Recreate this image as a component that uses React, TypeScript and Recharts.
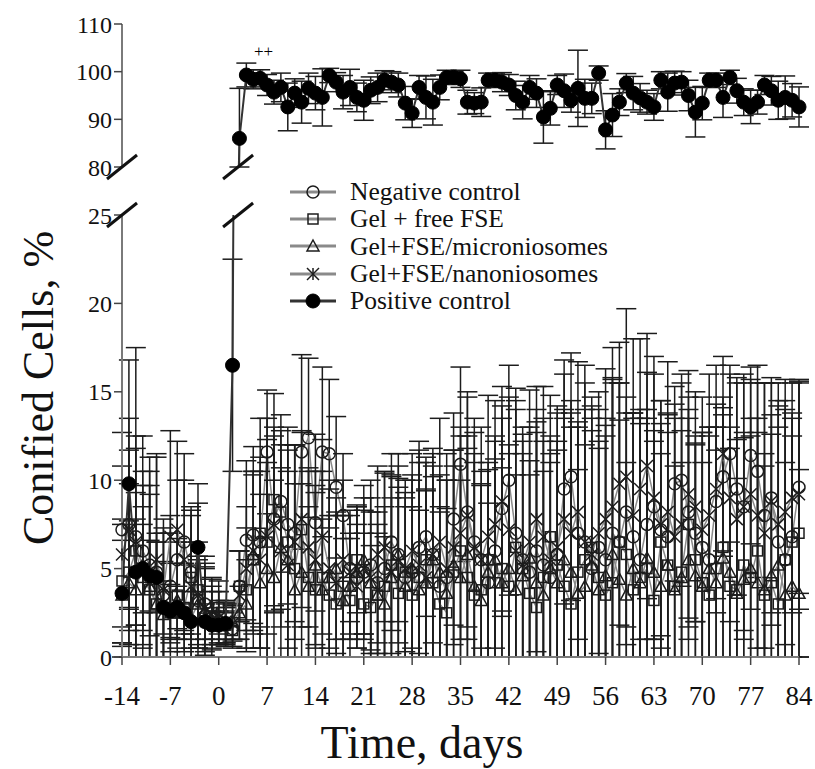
import React from "react"
import { ComposedChart, Line, XAxis, YAxis, ErrorBar, ReferenceDot, Label } from "recharts"

const W = 815
const H = 769
const FONT = "'Liberation Serif', 'Times New Roman', serif"

// days -14 .. 84
const days = Array.from({ length: 99 }, (_, i) => i - 14)
const dayTicks = [-14, -7, 0, 7, 14, 21, 28, 35, 42, 49, 56, 63, 70, 77, 84]
const lowTicks = [0, 5, 10, 15, 20, 25]
const highTicks = [80, 90, 100, 110]

const negControl = [
  7.2, 7.5, 6.8, 6.0, 5.2, 4.8, 3.5,
  4.0, 5.5, 6.5, 4.8, 3.2, 3.0, 2.2,
  2.0, 1.8, 1.6, 4.0, 6.6, 6.9, 6.5,
  11.6, 7.8, 8.8, 7.5, 7.0, 11.6, 12.4,
  7.6, 11.6, 11.5, 9.6, 8.0, 5.0, 4.5,
  4.8, 5.2, 4.2, 5.0, 6.5, 5.8, 4.5,
  4.8, 6.2, 6.8, 5.8, 4.0, 4.5, 7.8,
  10.9, 8.2, 6.5, 5.5, 4.2, 6.0, 8.4,
  10.0, 7.0, 5.5, 4.8, 6.0, 5.2, 4.5,
  5.8, 9.5, 10.2, 7.0, 6.5, 5.0, 6.2,
  5.5, 7.0, 6.5, 8.2, 6.8, 5.5, 7.5,
  8.5, 7.2, 6.8, 9.8, 10.0, 8.2, 7.0,
  6.2, 5.5, 8.8, 10.2, 11.5, 9.5, 8.5,
  11.4, 10.5, 8.0, 9.0, 6.5, 5.5, 6.8,
  9.6,
]
const negControlSd = [
  5.5, 6.0, 5.0, 4.5, 4.0, 6.5, 3.5,
  3.0, 4.5, 5.0, 3.5, 2.5, 2.0, 1.5,
  1.2, 1.0, 1.0, 2.0, 4.5, 5.0, 4.8,
  3.5, 5.2, 4.0, 4.5, 5.0, 5.5, 4.5,
  5.0, 4.8, 4.2, 4.0, 3.5, 3.0, 4.0,
  3.5, 4.8, 4.0, 5.5, 5.0, 3.8, 4.5,
  5.5, 6.0, 4.5, 5.0, 4.2, 5.5, 6.0,
  5.5, 6.5, 7.0, 5.0, 4.5, 6.2, 5.8,
  6.5, 7.5, 6.0, 5.5, 8.0, 7.0, 6.5,
  8.0, 6.5, 7.0, 6.0, 7.5, 8.5, 6.0,
  7.0, 8.5, 9.0, 6.5, 7.0, 8.0, 6.5,
  7.5, 6.0, 7.0, 5.5, 6.0, 6.5, 5.0,
  6.5, 7.5, 5.5, 4.5, 5.0, 6.0, 7.0,
  5.0, 6.0, 7.5, 6.5, 8.0, 9.0, 7.0,
  6.0,
]

const gelFree = [
  4.3, 4.8, 6.0, 4.5, 3.8, 3.0, 2.8,
  2.5, 3.5, 2.8, 4.5, 3.8, 2.2, 2.5,
  2.8, 1.8, 1.5, 4.0, 3.8, 5.5, 7.0,
  6.5, 8.9, 8.2, 6.5, 5.0, 7.2, 4.5,
  3.8, 4.5, 3.5, 3.0, 4.0, 3.2, 5.5,
  3.0, 2.8, 3.5, 4.0, 5.2, 3.6, 4.8,
  3.5, 4.5, 5.5, 4.2, 3.0, 2.5, 4.8,
  6.0, 4.5, 3.5, 3.8, 5.5, 4.2, 5.0,
  4.0, 6.2, 5.0, 3.6, 2.8, 4.5, 6.8,
  5.2, 4.0, 3.0, 4.8, 5.5, 6.2, 4.5,
  3.5, 4.2, 6.5, 5.8, 3.8, 4.5, 5.0,
  3.2, 6.5, 5.2, 4.0, 4.8, 7.5, 5.5,
  4.2, 3.5, 5.0, 6.2, 4.0, 3.8, 5.2,
  4.5, 6.0, 3.5, 4.2, 3.0, 5.5, 6.5,
  7.0,
]
const gelFreeSd = [
  3.5, 5.0, 6.5, 4.0, 7.5, 3.5, 4.5,
  5.5, 3.0, 2.5, 4.0, 6.0, 3.5, 2.0,
  1.5, 1.2, 1.0, 2.0, 3.5, 5.0, 6.5,
  7.0, 6.0, 5.5, 6.5, 7.0, 5.5, 6.0,
  5.5, 6.0, 4.5, 5.0, 4.0, 3.5, 3.0,
  4.0, 3.5, 4.0, 4.5, 5.0, 6.5, 4.5,
  5.0, 6.5, 5.5, 6.0, 5.5, 7.5, 6.0,
  6.5, 8.0, 7.5, 6.0, 5.5, 7.0, 8.5,
  7.5, 9.0, 8.0, 7.5, 10.5, 9.0, 8.0,
  7.0, 9.5, 10.0, 8.5, 11.0, 8.0, 9.5,
  10.0, 11.5, 9.0, 8.0, 10.0, 9.5, 8.5,
  9.0, 8.0, 7.5, 9.5, 8.0, 6.5, 7.0,
  8.5, 9.0, 8.0, 7.5, 9.0, 8.5, 7.5,
  9.0, 7.5, 8.0, 9.5, 10.0, 8.5, 7.0,
  8.5,
]

const gelMicro = [
  3.5, 4.2, 3.8, 5.2, 4.0, 3.0, 2.4,
  2.8, 3.2, 2.5, 2.2, 3.0, 2.6, 2.0,
  2.2, 1.9, 2.0, 2.5, 3.0, 5.8, 4.2,
  5.0, 4.5, 6.2, 5.5, 3.8, 4.8, 4.0,
  5.2, 3.8, 4.5, 5.0, 3.2, 4.0, 4.8,
  5.5, 4.2, 3.5, 3.0, 4.5, 5.8, 4.0,
  5.0, 3.8, 4.2, 5.5, 4.8, 3.6, 5.2,
  4.5, 5.8, 4.0, 3.2, 4.8, 5.5, 4.2,
  5.0, 3.8, 4.6, 5.6, 4.2, 3.5, 5.0,
  4.2, 5.5, 4.8, 3.6, 4.0, 5.2, 3.8,
  4.6, 5.8, 4.4, 3.5, 5.0, 4.2, 5.6,
  4.8, 4.0, 5.2, 3.8, 4.5, 5.5, 4.6,
  4.0, 5.0, 4.2, 5.6, 4.8, 3.6, 4.4,
  5.0, 4.2, 3.8, 4.6, 5.2, 3.5, 4.0,
  3.6,
]
const gelMicroSd = [
  4.0, 3.5, 5.5, 4.5, 6.5, 4.0, 3.0,
  2.5, 3.5, 4.0, 3.0, 2.5, 2.5, 2.0,
  1.5, 1.2, 1.0, 1.5, 2.5, 4.5, 5.0,
  6.0, 5.5, 4.5, 5.0, 6.0, 5.0, 4.5,
  4.5, 4.0, 5.5, 4.0, 3.5, 3.0, 3.8,
  4.2, 4.0, 3.5, 3.8, 4.5, 5.0, 4.5,
  5.0, 4.5, 5.2, 6.0, 5.5, 4.8, 6.5,
  5.5, 6.0, 7.5, 6.5, 5.8, 7.0, 6.5,
  7.0, 6.5, 8.0, 9.5, 8.5, 7.0, 6.5,
  7.5, 8.5, 9.0, 7.0, 8.0, 9.5, 8.0,
  8.5, 10.0, 9.0, 7.5, 8.5, 9.0, 10.5,
  8.0, 7.5, 8.5, 7.0, 6.5, 8.0, 7.5,
  7.0, 8.0, 7.5, 8.5, 7.0, 6.5, 8.0,
  7.5, 8.5, 7.0, 8.0, 9.0, 7.5, 8.5,
  7.0,
]

const gelNano = [
  5.8, 7.2, 6.5, 5.0, 4.2, 5.5, 3.8,
  6.8, 7.2, 5.5, 4.0, 3.5, 2.8, 2.4,
  2.2, 2.0, 1.9, 3.5, 5.0, 6.0, 5.5,
  6.8, 7.5, 6.0, 5.2, 6.5, 7.8, 6.2,
  5.5, 6.8, 5.0, 4.2, 5.5, 4.8, 4.0,
  5.0, 4.5, 5.8, 6.2, 4.8, 5.5, 5.0,
  6.0, 5.2, 4.5, 5.8, 6.5, 5.0, 6.2,
  7.0, 8.0, 6.2, 5.5, 6.8, 7.5, 8.8,
  7.2, 6.0, 5.2, 6.5, 7.8, 6.8, 5.5,
  6.2, 7.8, 7.0, 8.2, 6.5, 5.8, 7.0,
  7.8, 8.5, 9.8, 10.2, 8.0, 9.5, 10.8,
  9.0, 7.5, 8.2, 6.8, 7.5, 9.2, 8.5,
  7.2, 8.0, 9.5, 11.5, 9.0, 7.8, 8.5,
  9.2, 8.0, 7.0, 8.8, 7.5, 8.2, 9.0,
  9.2,
]
const gelNanoSd = [
  5.0, 4.5, 11.0, 7.5, 5.5, 6.0, 4.0,
  6.0, 5.0, 4.5, 4.0, 3.0, 2.5, 2.0,
  1.5, 1.2, 1.0, 2.5, 3.5, 4.5, 5.0,
  5.5, 5.0, 6.0, 6.5, 5.5, 5.0, 4.5,
  5.0, 5.5, 4.5, 4.0, 4.5, 3.5, 3.5,
  4.0, 4.5, 5.0, 4.2, 5.5, 6.0, 5.0,
  5.5, 6.5, 5.0, 6.0, 7.0, 6.5, 5.5,
  6.0, 7.0, 6.5, 7.5, 8.0, 7.0, 6.5,
  7.5, 8.0, 7.0, 6.5, 7.5, 8.5, 7.0,
  8.0, 9.0, 7.5, 8.5, 9.0, 7.0, 8.0,
  8.5, 9.0, 8.0, 9.5, 10.0, 8.5, 7.5,
  8.0, 7.0, 8.5, 7.5, 8.0, 7.0, 6.5,
  7.5, 8.0, 7.0, 5.5, 7.0, 8.0, 7.5,
  6.5, 7.5, 8.5, 7.0, 8.0, 7.5, 6.5,
  6.5,
]

const positive = [
  3.6, 9.8, 4.8, 5.0, 4.6, 4.5, 2.8,
  2.6, 2.8, 2.5, 2.0, 6.2, 2.0, 1.8,
  1.8, 1.9, 16.5, 86.0, 99.3, 98.4, 98.6,
  97.2, 95.7, 96.7, 92.6, 95.5, 93.6, 96.5,
  95.5, 94.6, 99.2, 97.8, 95.7, 96.7, 94.6,
  94.0, 96.1, 96.7, 98.2, 97.8, 97.2, 93.4,
  91.3, 96.7, 94.6, 93.6, 96.7, 98.8, 98.8,
  98.5, 93.6, 93.4, 93.6, 98.2, 98.2, 97.8,
  97.2, 95.0, 93.6, 96.7, 95.5, 90.5, 92.3,
  97.2, 96.0, 94.0, 96.5, 94.4, 94.4, 99.7,
  87.8, 90.9, 93.6, 97.6, 95.5, 94.5, 93.6,
  92.6, 98.2, 95.7, 97.6, 97.8, 95.0, 91.5,
  93.4, 98.2, 98.2, 94.6, 98.8, 96.0, 93.6,
  92.6, 93.6, 97.2, 96.0, 94.0, 94.6, 94.0,
  92.6,
]
const positiveSd = [
  3.0, 7.0, 3.0, 2.5, 2.0, 2.0, 1.5,
  1.5, 1.2, 1.2, 1.0, 2.5, 1.0, 0.8,
  0.8, 0.9, 6.0, 10.5, 2.5, 2.0, 1.8,
  2.2, 2.5, 3.0, 5.0, 3.0, 4.4, 3.2,
  3.5, 6.0, 1.5, 2.0, 3.5, 3.8, 3.0,
  4.2, 2.8, 3.0, 2.0, 2.2, 2.5, 3.5,
  3.0, 2.5, 4.5, 4.8, 2.6, 1.5, 1.2,
  1.8, 2.5, 2.2, 3.0, 1.5, 1.5, 2.0,
  2.2, 3.0, 3.5, 2.5, 3.0, 5.5, 3.5,
  2.0, 3.5, 2.5, 8.0, 4.0, 3.2, 1.5,
  4.0, 4.5, 2.8, 2.0, 3.5, 3.0, 2.5,
  2.8, 1.8, 4.0, 2.5, 2.2, 3.2, 5.2,
  3.5, 1.5, 1.5, 4.2, 1.5, 2.6, 2.8,
  3.5, 2.5, 2.0, 3.0, 4.0, 4.5, 3.5,
  4.2,
]

const clipRange = (v: number, sd: number, floor: number) => [Math.min(sd, v - floor), sd]

const rows = days.map((d, i) => ({
  day: d,
  nc: negControl[i],
  ncErr: clipRange(negControl[i], negControlSd[i], 0),
  gf: gelFree[i],
  gfErr: clipRange(gelFree[i], gelFreeSd[i], 0),
  gm: gelMicro[i],
  gmErr: clipRange(gelMicro[i], gelMicroSd[i], 0),
  gn: gelNano[i],
  gnErr: clipRange(gelNano[i], gelNanoSd[i], 0),
  pcLow: positive[i] <= 25 || (i > 0 && positive[i - 1] <= 25) ? positive[i] : null,
  pcLowErr: positive[i] <= 25 ? clipRange(positive[i], positiveSd[i], 0) : undefined,
  pcHigh: positive[i] >= 80 || (i < positive.length - 1 && positive[i + 1] >= 80) ? positive[i] : null,
  pcHighErr: positive[i] >= 80 ? clipRange(positive[i], positiveSd[i], 80) : undefined,
}))

const INK = "#1c1c1c"
const LINE = "#8a8a8a"
const AXIS = "#7a7a7a"

type Shape = "circle" | "square" | "triangle" | "star" | "dot"

function Marker({ shape, cx, cy }: { shape: Shape; cx: number; cy: number }) {
  const p = { fill: "none", stroke: INK, strokeWidth: 1.5 }
  if (shape === "circle") return <circle cx={cx} cy={cy} r={6} {...p} />
  if (shape === "square") return <rect x={cx - 5} y={cy - 5} width={10} height={10} {...p} />
  if (shape === "triangle") return <polygon points={`${cx},${cy - 6} ${cx + 6},${cy + 5} ${cx - 6},${cy + 5}`} {...p} />
  if (shape === "star")
    return (
      <g {...p}>
        <line x1={cx - 6} y1={cy - 6} x2={cx + 6} y2={cy + 6} />
        <line x1={cx - 6} y1={cy + 6} x2={cx + 6} y2={cy - 6} />
        <line x1={cx} y1={cy - 6} x2={cx} y2={cy + 6} />
      </g>
    )
  return <circle cx={cx} cy={cy} r={7} fill="#000" stroke="#000" />
}

const dotFor = (shape: Shape) => (props: any) => {
  const { cx, cy, index, value } = props
  if (cx == null || cy == null || value == null) return <g key={`${shape}-${index}`} />
  return (
    <g key={`${shape}-${index}`}>
      <Marker shape={shape} cx={cx} cy={cy} />
    </g>
  )
}

const legendItems: { name: string; shape: Shape }[] = [
  { name: "Negative control", shape: "circle" },
  { name: "Gel + free FSE", shape: "square" },
  { name: "Gel+FSE/microniosomes", shape: "triangle" },
  { name: "Gel+FSE/nanoniosomes", shape: "star" },
  { name: "Positive control", shape: "dot" },
]

function LegendBox() {
  return (
    <div style={{ position: "absolute", left: 286, top: 178, fontFamily: FONT, fontSize: 25.5, lineHeight: "27px", color: "#111" }}>
      {legendItems.map((it) => (
        <div key={it.name} style={{ display: "flex", alignItems: "center", height: 27.3 }}>
          <svg width={64} height={24}>
            <line x1={4} y1={12} x2={50} y2={12} stroke={it.shape === "dot" ? "#333" : LINE} strokeWidth={3} />
            <Marker shape={it.shape} cx={27} cy={12} />
          </svg>
          <span>{it.name}</span>
        </div>
      ))}
    </div>
  )
}

const slash = (props: any) => (
  <line x1={props.cx - 15} y1={props.cy + 12} x2={props.cx + 15} y2={props.cy - 12} stroke="#111" strokeWidth={3} />
)

const yTickFont = { fontFamily: FONT, fontSize: 24, fill: "#111" }
const xTickFont = { fontFamily: FONT, fontSize: 27, fill: "#111" }

const series: { key: string; err: string; shape: Shape }[] = [
  { key: "nc", err: "ncErr", shape: "circle" },
  { key: "gf", err: "gfErr", shape: "square" },
  { key: "gm", err: "gmErr", shape: "triangle" },
  { key: "gn", err: "gnErr", shape: "star" },
]

export default function App() {
  return (
    <div style={{ position: "absolute", left: 0, top: 0, width: W, height: H, background: "#fff", fontFamily: FONT }}>
      {/* lower panel 0-25 */}
      <div style={{ position: "absolute", left: 0, top: 0 }}>
        <ComposedChart width={W} height={H} data={rows} margin={{ top: 215, right: 16, bottom: 2, left: 0 }}>
          <XAxis
            dataKey="day"
            type="number"
            domain={[-14, 84]}
            ticks={dayTicks}
            interval={0}
            height={110}
            tickSize={8}
            tickMargin={21}
            tick={xTickFont}
            axisLine={{ stroke: AXIS, strokeWidth: 2 }}
            tickLine={{ stroke: "#444", strokeWidth: 1.5 }}
          >
            <Label
              content={(p: any) => {
                const vb = p.viewBox || { x: 122, y: 657, width: 677, height: 110 }
                return (
                  <text x={vb.x + 300} y={vb.y + 101} textAnchor="middle" style={{ fontFamily: FONT, fontSize: 46, fill: "#111" }}>
                    Time, days
                  </text>
                )
              }}
            />
          </XAxis>
          <YAxis
            type="number"
            domain={[0, 25]}
            ticks={lowTicks}
            allowDataOverflow
            width={122}
            tickSize={8}
            tickMargin={2}
            tick={yTickFont}
            axisLine={{ stroke: AXIS, strokeWidth: 2 }}
            tickLine={{ stroke: "#444", strokeWidth: 1.5 }}
          >
            <Label
              content={(p: any) => {
                const vb = p.viewBox || { x: 0, y: 215, height: 442 }
                const x = vb.x + 38
                const y = vb.y + vb.height / 2 - 48
                return (
                  <text x={x} y={y} transform={`rotate(-90, ${x}, ${y})`} textAnchor="middle" dominantBaseline="central" style={{ fontFamily: FONT, fontSize: 44, fill: "#111" }}>
                    Conified Cells, %
                  </text>
                )
              }}
            />
          </YAxis>
          {series.map((s) => (
            <Line
              key={s.key}
              dataKey={s.key}
              stroke={LINE}
              strokeWidth={1.5}
              dot={dotFor(s.shape)}
              activeDot={false}
              isAnimationActive={false}
            >
              <ErrorBar dataKey={s.err} direction="y" width={10} stroke={INK} strokeWidth={1.5} />
            </Line>
          ))}
          <Line dataKey="pcLow" stroke="#333" strokeWidth={2} dot={dotFor("dot")} activeDot={false} isAnimationActive={false}>
            <ErrorBar dataKey="pcLowErr" direction="y" width={10} stroke={INK} strokeWidth={1.5} />
          </Line>
          <ReferenceDot x={-14} y={25} ifOverflow="visible" shape={slash} />
          <ReferenceDot x={2.8} y={25} ifOverflow="visible" shape={slash} />
        </ComposedChart>
      </div>
      {/* upper panel 80-110 */}
      <div style={{ position: "absolute", left: 0, top: 0, pointerEvents: "none" }}>
        <ComposedChart width={W} height={H} data={rows} margin={{ top: 24, right: 16, bottom: H - 167, left: 0 }}>
          <XAxis dataKey="day" type="number" domain={[-14, 84]} hide />
          <YAxis
            type="number"
            domain={[80, 110]}
            ticks={highTicks}
            allowDataOverflow
            width={122}
            tickSize={8}
            tickMargin={2}
            tick={yTickFont}
            axisLine={{ stroke: AXIS, strokeWidth: 2 }}
            tickLine={{ stroke: "#444", strokeWidth: 1.5 }}
          />
          <Line dataKey="pcHigh" stroke="#333" strokeWidth={2} dot={dotFor("dot")} activeDot={false} isAnimationActive={false}>
            <ErrorBar dataKey="pcHighErr" direction="y" width={10} stroke={INK} strokeWidth={1.5} />
          </Line>
          <ReferenceDot x={-14} y={80} ifOverflow="visible" shape={slash} />
          <ReferenceDot x={2.8} y={80} ifOverflow="visible" shape={slash} />
          <ReferenceDot
            x={6.5}
            y={103}
            ifOverflow="visible"
            shape={(p: any) => (
              <text x={p.cx} y={p.cy} textAnchor="middle" style={{ fontFamily: FONT, fontSize: 17, fill: "#000" }}>
                ++
              </text>
            )}
          />
        </ComposedChart>
      </div>
      <LegendBox />
    </div>
  )
}
